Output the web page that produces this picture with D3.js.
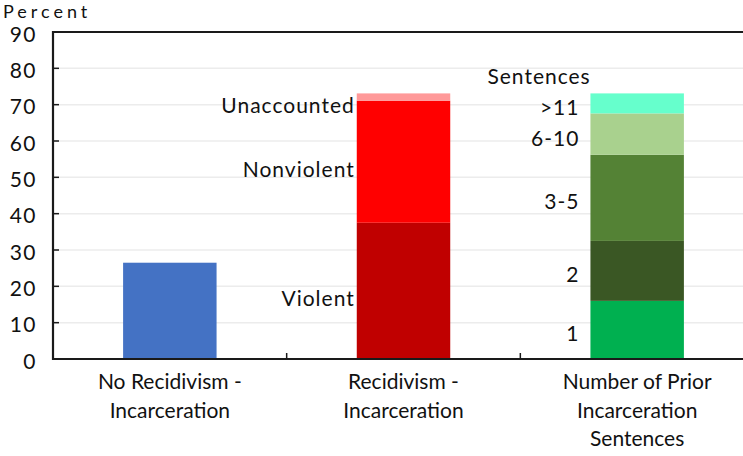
<!DOCTYPE html>
<html>
<head>
<meta charset="utf-8">
<script src="https://cdn.jsdelivr.net/npm/d3@7"></script>
<style>
  body { margin: 0; background: #fff; }
  text { font-family: Lato, "Open Sans", sans-serif; fill: #111; }
</style>
</head>
<body>
<script>
// chart values
var categories = ["No Recidivism - Incarceration", "Recidivism - Incarceration", "Number of Prior Incarceration Sentences"]
var categoryLines = [["No Recidivism -", "Incarceration"], ["Recidivism -", "Incarceration"], ["Number of Prior", "Incarceration", "Sentences"]]
var noRecidValues = [26.5]
var recidLabels = ["Violent", "Nonviolent", "Unaccounted"]
var recidValues = [37.5, 33.6, 2.0]
var sentenceLabels = ["1", "2", "3-5", "6-10", ">11"]
var sentenceValues = [16.0, 16.5, 23.7, 11.4, 5.5]
var yTicks = [0, 10, 20, 30, 40, 50, 60, 70, 80, 90]

var recidColors = ["#C00000", "#FF0000", "#FF9999"]
var sentenceColors = ["#00B050", "#3A5724", "#548235", "#A9D18E", "#66FFCC"]

var margin = {top: 32, left: 53},
    width = 701,
    height = 327;

var svg = d3.select("body").append("svg")
    .attr("width", 743)
    .attr("height", 456)

var g = svg.append("g")
    .attr("transform", "translate(" + margin.left + "," + margin.top + ")")

var x = d3.scaleBand()
    .domain(categories)
    .range([0, width])
    .paddingInner(0.6)
    .paddingOuter(0.3)

var y = d3.scaleLinear()
    .domain([0, 90])
    .range([height, 0])

// gridlines
g.selectAll(".grid")
    .data(yTicks.filter(function(d){ return d > 0 && d < 90 }))
    .enter().append("line")
    .attr("x1", 0).attr("x2", width)
    .attr("y1", function(d){ return y(d) }).attr("y2", function(d){ return y(d) })
    .attr("stroke", "#ececec")
    .attr("stroke-width", 1.5)

// turns a list of values into stacked segments
function stackUp(values, labels, colors) {
    var out = [], sum = 0
    for (var i = 0; i < values.length; i++) {
        out.push({label: labels[i], y0: sum, y1: sum + values[i], color: colors[i]})
        sum += values[i]
    }
    return out
}

var bars = [
    {cat: categories[0], segs: stackUp(noRecidValues, [""], ["#4472C4"]), gap: 0, dy: 0},
    {cat: categories[1], segs: stackUp(recidValues, recidLabels, recidColors), gap: 2, dy: 7},
    {cat: categories[2], segs: stackUp(sentenceValues, sentenceLabels, sentenceColors), gap: 11, dy: 3}
]

bars.forEach(function(b) {
    g.selectAll(null)
        .data(b.segs)
        .enter().append("rect")
        .attr("x", x(b.cat))
        .attr("width", x.bandwidth())
        .attr("y", function(d){ return y(d.y1) })
        .attr("height", function(d){ return y(d.y0) - y(d.y1) })
        .attr("fill", function(d){ return d.color })

    g.selectAll(null)
        .data(b.segs.filter(function(d){ return d.label != "" }))
        .enter().append("text")
        .attr("x", x(b.cat) - b.gap)
        .attr("y", function(d){ return y((d.y0 + d.y1) / 2) + b.dy })
        .attr("dominant-baseline", "central")
        .attr("text-anchor", "end")
        .style("font-size", "21px")
        .style("letter-spacing", "1px")
        .text(function(d){ return d.label })
})

g.append("text")
    .attr("x", x(categories[2]) - 103)
    .attr("y", y(73.1) - 9)
    .style("font-size", "21px")
    .style("letter-spacing", "1px")
    .text("Sentences")

// frame: left, top, bottom
g.append("path")
    .attr("d", "M" + (width + 5) + ",0H0V" + height + "H" + (width + 5))
    .attr("fill", "none")
    .attr("stroke", "#1a1a1a")
    .attr("stroke-width", 2.2)

// y axis ticks and labels
g.selectAll(".ytick")
    .data(yTicks)
    .enter().append("line")
    .attr("x1", 0).attr("x2", 6)
    .attr("y1", function(d){ return y(d) }).attr("y2", function(d){ return y(d) })
    .attr("stroke", "#1a1a1a")
    .attr("stroke-width", 1.5)

g.selectAll(".ylab")
    .data(yTicks)
    .enter().append("text")
    .attr("x", -16)
    .attr("y", function(d){ return y(d) + 1 })
    .attr("dominant-baseline", "central")
    .attr("text-anchor", "end")
    .style("font-size", "21px")
    .style("letter-spacing", "1.5px")
    .text(function(d){ return d })

svg.append("text")
    .attr("x", 3)
    .attr("y", 18)
    .style("font-size", "18px")
    .style("letter-spacing", "4px")
    .text("Percent")

// x axis ticks between categories
var step = x.step()
g.selectAll(".xtick")
    .data([1, 2])
    .enter().append("line")
    .attr("x1", function(d){ return x(categories[d]) - (step - x.bandwidth()) / 2 })
    .attr("x2", function(d){ return x(categories[d]) - (step - x.bandwidth()) / 2 })
    .attr("y1", height).attr("y2", height - 6)
    .attr("stroke", "#1a1a1a")
    .attr("stroke-width", 1.5)

// category labels
categories.forEach(function(c, i) {
    var t = g.append("text")
        .attr("text-anchor", "middle")
        .attr("x", x(c) + x.bandwidth() / 2)
        .attr("y", height + 30)
        .style("font-size", "21px")
    categoryLines[i].forEach(function(line, j) {
        t.append("tspan")
            .attr("x", x(c) + x.bandwidth() / 2)
            .attr("dy", j == 0 ? 0 : 28.5)
            .text(line)
    })
})
</script>
</body>
</html>
